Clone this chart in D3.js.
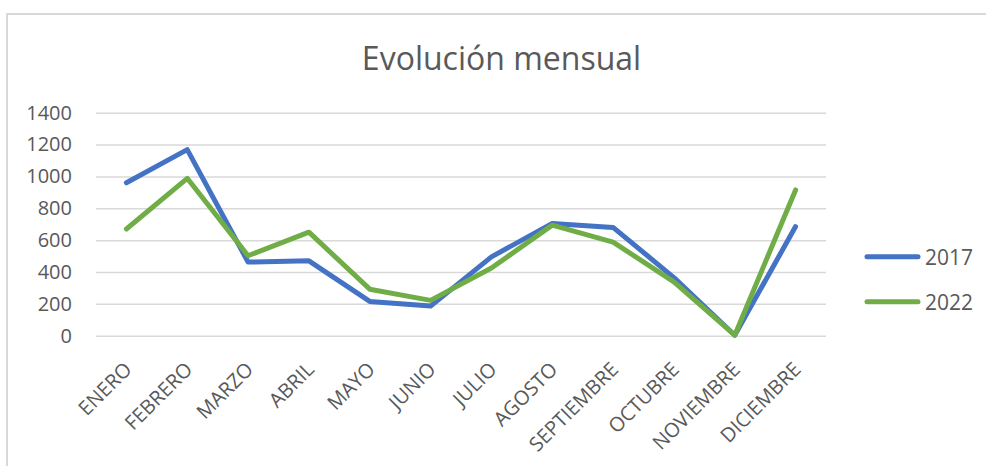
<!DOCTYPE html>
<html>
<head>
<meta charset="utf-8">
<script src="https://cdn.jsdelivr.net/npm/d3@7"></script>
<style>
  html, body { margin: 0; padding: 0; background: #fff; }
  svg { display: block; font-family: "Open Sans", sans-serif; }
</style>
</head>
<body>
<svg id="chart" width="986" height="466"></svg>
<script>
const categories = ["ENERO","FEBRERO","MARZO","ABRIL","MAYO","JUNIO","JULIO","AGOSTO","SEPTIEMBRE","OCTUBRE","NOVIEMBRE","DICIEMBRE"];
const values2017 = [960, 1168, 462, 470, 215, 186, 495, 705, 680, 365, 3, 685];
const values2022 = [670, 988, 502, 650, 292, 222, 425, 694, 588, 338, 3, 915];
const seriesNames = ["2017", "2022"];
const yTicks = [0, 200, 400, 600, 800, 1000, 1200, 1400];
const titleText = "Evolución mensual";

const colors = ["#4472C4", "#70AD47"];
const series = [values2017, values2022];

const svg = d3.select("#chart");

// outer chart border
svg.append("path")
  .attr("d", "M7,466 V14 H986")
  .attr("fill", "none")
  .attr("stroke", "#d9d9d9")
  .attr("stroke-width", 2);

const plot = { left: 96, right: 826, top: 112.7, bottom: 335.7 };

const x = d3.scalePoint()
  .domain(categories)
  .range([plot.left, plot.right])
  .padding(0.5);

const y = d3.scaleLinear()
  .domain([0, 1400])
  .range([plot.bottom, plot.top]);

// title
svg.append("text")
  .attr("x", 501.5)
  .attr("y", 70)
  .attr("text-anchor", "middle")
  .attr("font-size", 32)
  .attr("fill", "#595959")
  .text(titleText);

// gridlines + y labels via axis
const yAxis = d3.axisLeft(y)
  .tickValues(yTicks)
  .tickSize(-(plot.right - plot.left))
  .tickPadding(24)
  .tickFormat(d3.format("d"));

const gy = svg.append("g")
  .attr("transform", `translate(${plot.left},0)`)
  .call(yAxis);
gy.select(".domain").remove();
gy.selectAll(".tick line")
  .attr("stroke", "#d9d9d9")
  .attr("stroke-width", 1.5);
gy.selectAll(".tick text")
  .attr("font-size", 20)
  .attr("fill", "#595959")
  .attr("font-family", "Open Sans, sans-serif");

// x labels via axis
const xAxis = d3.axisBottom(x).tickSize(0).tickPadding(0);
const gx = svg.append("g")
  .attr("transform", `translate(0,${plot.bottom})`)
  .call(xAxis);
gx.select(".domain").remove();
gx.selectAll(".tick text")
  .attr("font-size", 20)
  .attr("fill", "#595959")
  .attr("font-family", "Open Sans, sans-serif")
  .attr("text-anchor", "end")
  .attr("dy", null)
  .attr("y", 0)
  .attr("transform", "translate(6,35) rotate(-45)");

// lines
const line = d3.line()
  .x((d, i) => x(categories[i]))
  .y(d => y(d));

series.forEach((vals, k) => {
  svg.append("path")
    .datum(vals)
    .attr("d", line)
    .attr("fill", "none")
    .attr("stroke", colors[k])
    .attr("stroke-width", 5)
    .attr("stroke-linejoin", "round")
    .attr("stroke-linecap", "round");
});

// legend
const legend = svg.append("g");
seriesNames.forEach((name, k) => {
  const ly = 256.7 + k * 45;
  legend.append("line")
    .attr("x1", 867).attr("x2", 918)
    .attr("y1", ly).attr("y2", ly)
    .attr("stroke", colors[k])
    .attr("stroke-width", 5)
    .attr("stroke-linecap", "round");
  legend.append("text")
    .attr("x", 925)
    .attr("y", ly + 8)
    .attr("font-size", 21)
    .attr("fill", "#595959")
    .text(name);
});
</script>
</body>
</html>
